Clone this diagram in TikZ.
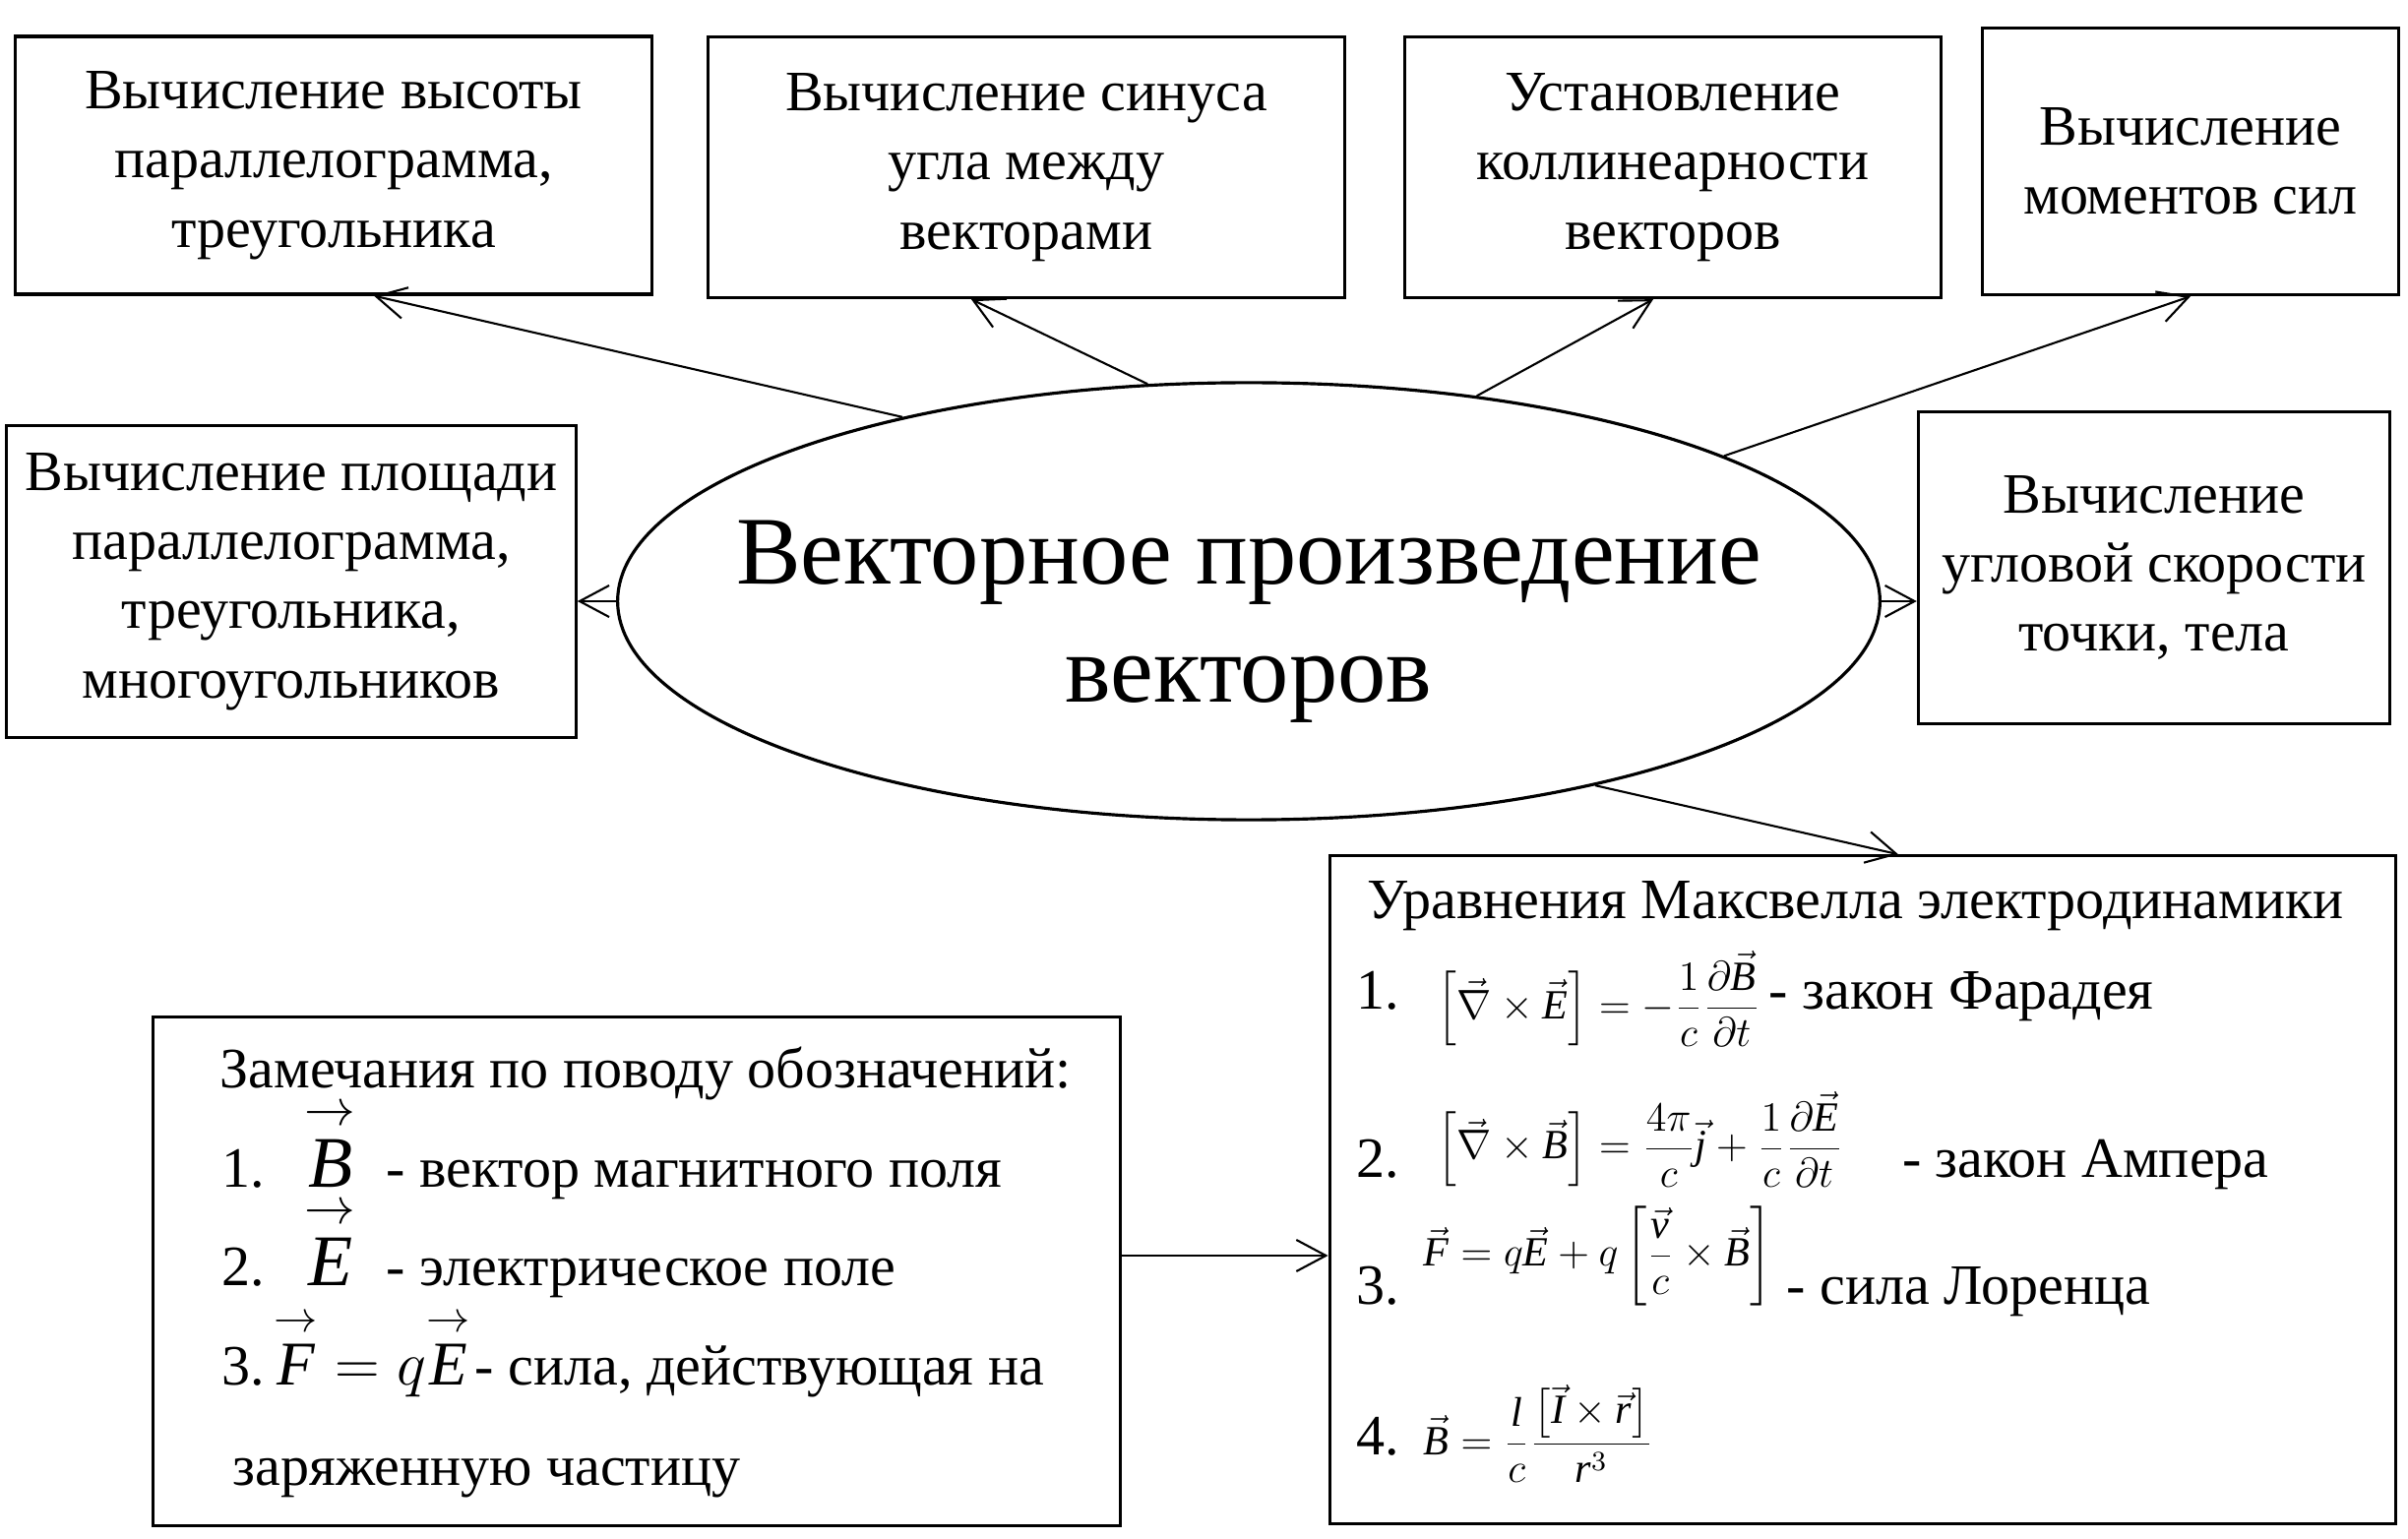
\documentclass[tikz,border=0pt]{standalone}
\usepackage{fix-cm}
\usepackage{amsmath}
\usepackage{fontspec}
\setmainfont{Liberation Serif}
\usetikzlibrary{shapes.geometric,arrows.meta}
\newcommand\vb[1]{\vec{\textit{#1}}}
\newcommand\vl[1]{\overset{\rightarrow}{\textit{#1}}}
\newcommand\bigvec[1]{{\fontsize{21}{24}\selectfont$\vl{#1}$}}
\newcommand\formula[2]{\raisebox{#1}{\fontsize{12}{14}\selectfont$\displaystyle #2$}}
\begin{document}
\begin{tikzpicture}[x=0.01cm,y=-0.01cm,>={Straight Barb[length=3mm,width=3.2mm]}]
	\tikzstyle{box_style} = [draw, line width=0.9pt, align=center, inner sep=0pt, font=\fontsize{16.5}{20}\selectfont]
	\tikzstyle{line_style} = [anchor=base west, inner sep=0pt, font=\fontsize{16.5}{20}\selectfont]
	\tikzstyle{arrow_style} = [->, line width=0.6pt]
	\useasboundingbox (0,0) rectangle (2447,1564);
	%%% top row
	\node[box_style, minimum width=6.46cm, minimum height=2.62cm] (box-1) at (339,168) {Вычисление высоты\\параллелограмма,\\треугольника};
	\node[box_style, minimum width=6.46cm, minimum height=2.65cm] (box-2) at (1043,170) {Вычисление синуса\\угла между\\векторами};
	\node[box_style, minimum width=5.44cm, minimum height=2.65cm] (box-3) at (1700,170) {Установление\\коллинеарности\\векторов};
	\node[box_style, minimum width=4.23cm, minimum height=2.71cm] (box-4) at (2226,164) {Вычисление\\моментов сил};
	%%% middle row
	\node[box_style, minimum width=5.78cm, minimum height=3.17cm] (box-5) at (296,591) {Вычисление площади\\параллелограмма,\\треугольника,\\многоугольников};
	\node[box_style, minimum width=4.79cm, minimum height=3.16cm] (box-6) at (2189,577) {Вычисление\\угловой скорости\\точки, тела};
	\node[draw, ellipse, line width=0.9pt, minimum width=12.82cm, minimum height=4.44cm, inner sep=0pt] (vp) at (1269,611) {};
	\node[align=center, inner sep=0pt, font=\fontsize{28}{34}\selectfont] (vp-text) at (1269,632) {Векторное произведение\\векторов};
	%%% bottom boxes
	\node[draw, line width=0.9pt, minimum width=10.83cm, minimum height=6.78cm, inner sep=0pt] (mx) at (1893,1209) {};
	\node[draw, line width=0.9pt, minimum width=9.82cm, minimum height=5.16cm, inner sep=0pt] (nt) at (647,1292) {};
	%%% notes
	\node[line_style] (nt-0) at (223,1105) {Замечания по поводу обозначений:};
	\node[line_style] (nt-1) at (225,1206) {\makebox[0.84cm][l]{1.}\makebox[0.83cm][l]{\bigvec{B}}- вектор магнитного поля};
	\node[line_style] (nt-2) at (225,1306) {\makebox[0.84cm][l]{2.}\makebox[0.83cm][l]{\bigvec{E}}- электрическое поле};
	\node[line_style] (nt-3) at (225,1407) {\makebox[0.53cm][l]{3.}\makebox[2.04cm][l]{\fontsize{18}{21}\selectfont$\vl{F}=q\vl{E}$}- сила, действующая на};
	\node[line_style] (nt-4) at (236,1509) {заряженную частицу};
	%%% Maxwell
	\node[line_style] (mx-0) at (1389,934) {Уравнения Максвелла электродинамики};
	\node[line_style] (mx-1) at (1378,1025) {\makebox[0.82cm][l]{1.}\makebox[3.37cm][l]{\formula{-0.1cm}{\Bigl[\vec{\nabla}\times\vb{E}\Bigr]=-\frac{1}{c}\frac{\partial\vb{B}}{\partial t}}}- закон Фарадея};
	\node[line_style] (mx-2) at (1378,1196) {\makebox[0.82cm][l]{2.}\makebox[4.72cm][l]{\formula{0.18cm}{\Bigl[\vec{\nabla}\times\vb{B}\Bigr]=\frac{4\pi}{c}\vb{j}+\frac{1}{c}\frac{\partial\vb{E}}{\partial t}}}- закон Ампера};
	\node[line_style] (mx-3) at (1378,1325) {\makebox[0.68cm][l]{3.}\makebox[3.69cm][l]{\formula{0.38cm}{\vb{F}=q\vb{E}+q\left[\frac{\vb{v}}{c}\times\vb{B}\right]}}- сила Лоренца};
	\node[line_style] (mx-4) at (1378,1478) {\makebox[0.68cm][l]{4.}\formula{0cm}{\vb{B}=\frac{\textit{l}}{c}\frac{\bigl[\vb{I}\times\vb{r}\bigr]}{\textit{r}^{3}}}};
	%%% connectors
	\foreach \a/\n/\s in {152/box-1/0.41, 115/box-2/-0.56, 42.5/box-3/-0.2, 17.8/box-4/0}{
		\draw[arrow_style] (vp.\a) -- ([xshift=\s cm]\n.south);
	}
	\draw[arrow_style] (vp.west) -- (vp.west -| box-5.east);
	\draw[arrow_style] (vp.east) -- (vp.east -| box-6.west);
	\draw[arrow_style] (vp.-28.3) -- ([xshift=0.36cm]mx.north);
	\draw[arrow_style] ([yshift=0.16cm]nt.east) -- ([yshift=0.16cm]nt.east -| mx.west);
\end{tikzpicture}
\end{document}
